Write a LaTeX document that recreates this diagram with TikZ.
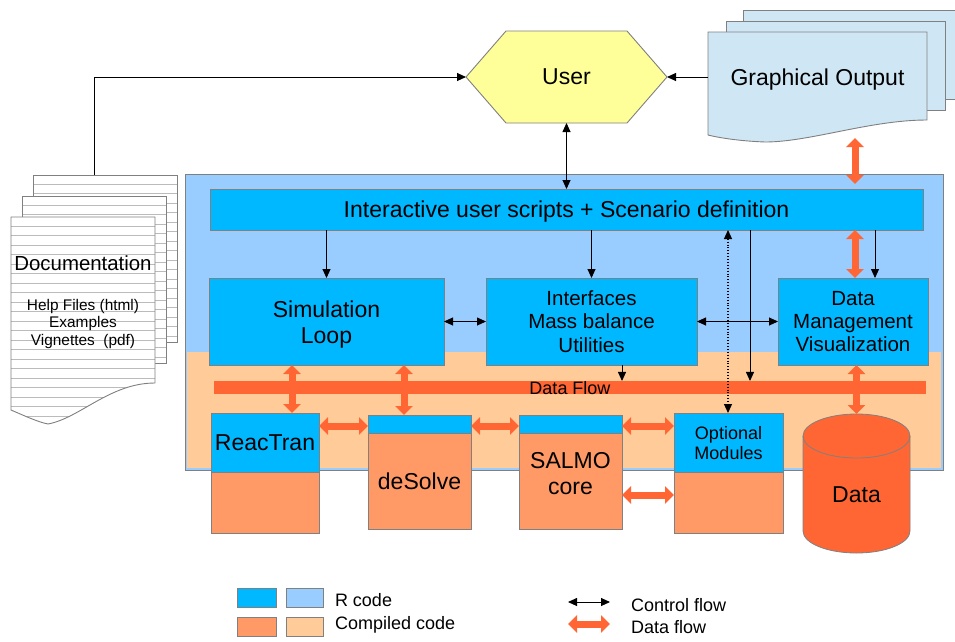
\documentclass[tikz,border=0pt]{standalone}
\usepackage{fontspec}
\setmainfont{Liberation Sans}
\usetikzlibrary{arrows.meta}
\definecolor{cblue}{HTML}{00B8FF}
\definecolor{lblue}{HTML}{99CCFF}
\definecolor{peach}{HTML}{FFCC99}
\definecolor{morange}{HTML}{FF9966}
\definecolor{dorange}{HTML}{FF6633}
\definecolor{uyellow}{HTML}{FFFF99}
\definecolor{gblue}{HTML}{CFE7F5}
\definecolor{bgray}{HTML}{808080}
\definecolor{lgray}{HTML}{BBBBBB}
\begin{document}
\begin{tikzpicture}[x=1pt,y=-1pt,
  every node/.style={inner sep=0pt, outer sep=0pt},
  fA/.style={font=\fontsize{23}{26.5}\selectfont},
  fB/.style={font=\fontsize{20.5}{23.3}\selectfont},
  fC/.style={font=\fontsize{18}{20.5}\selectfont},
  fD/.style={font=\fontsize{15.4}{17.6}\selectfont},
  fE/.style={font=\fontsize{20.4}{23}\selectfont},
  nd/.style={text depth=0pt},
  box/.style={draw=bgray, line width=1pt, fill=cblue},
  modf/.style={draw=bgray, line width=1pt},
  ctrl/.style={draw=black, line width=0.9pt, -{Triangle[width=8pt,length=9pt]}},
  ctrltwo/.style={draw=black, line width=0.9pt, {Triangle[width=8pt,length=9pt]}-{Triangle[width=8pt,length=9pt]}},
  dflow/.style={draw=dorange, line width=7pt, {Triangle[width=17pt,length=9pt]}-{Triangle[width=17pt,length=9pt]}},
  rule/.style={draw=lgray, line width=0.6pt},
  pageborder/.style={draw=bgray, line width=0.9pt}
]
\useasboundingbox (0,0) rectangle (955,641);
\fill[white] (0,0) rectangle (955,641);

% ---------- Documentation stack ----------
\fill[white] (33,175) rectangle (177,342);
\begin{scope}
  \clip (33,175) rectangle (177,342);
  \foreach \y in {184,193.5,...,340} \draw[rule] (33,\y) -- (177,\y);
\end{scope}
\draw[pageborder] (33,175) rectangle (177,342);
\fill[white] (22,196) rectangle (166,363);
\begin{scope}
  \clip (22,196) rectangle (166,363);
  \foreach \y in {205,214.5,...,362} \draw[rule] (22,\y) -- (166,\y);
\end{scope}
\draw[pageborder] (22,196) rectangle (166,363);
\fill[white] (11,217) -- (155,217) -- (155,383) .. controls (110,383) and (80,418) .. (48,424) .. controls (38,422) and (25,416) .. (11,410) -- cycle;
\begin{scope}
  \clip (11,217) -- (155,217) -- (155,383) .. controls (110,383) and (80,418) .. (48,424) .. controls (38,422) and (25,416) .. (11,410) -- cycle;
  \foreach \y in {226,235.5,...,424} \draw[rule] (11,\y) -- (155,\y);
\end{scope}
\draw[pageborder] (11,217) -- (155,217) -- (155,383) .. controls (110,383) and (80,418) .. (48,424) .. controls (38,422) and (25,416) .. (11,410) -- cycle;
\node[fE, nd] (doc) at (83,263) {Documentation};
\node[fD, align=center] (docsub) at (83,324) {Help Files (html)\\Examples\\Vignettes\ \ (pdf)};
\coordinate (doctop) at (94,175);

% ---------- User ----------
\path[fill=uyellow, draw=bgray, line width=0.9pt] (466,77) -- (506,31) -- (627,31) -- (667,77) -- (627,123) -- (506,123) -- cycle;
\node[fA, nd, minimum width=201pt, minimum height=92pt] (user) at (566.5,77) {User};

% ---------- Graphical output ----------
\path[fill=gblue, pageborder] (743,10) rectangle (962,99);
\path[fill=gblue, pageborder] (726,21) rectangle (945,110);
\path[fill=gblue, pageborder] (708,32) -- (927,32) -- (927,120) .. controls (870,120) and (810,142) .. (765,142) .. controls (740,141) and (720,138) .. (708,135) -- cycle;
\node[fA, nd, minimum width=219pt] (gout) at (817.5,77) {Graphical Output};

% ---------- Main box ----------
\node[fill=lblue, minimum width=758pt, minimum height=296pt] (main) at (564,322) {};
\fill[peach] (187,352) rectangle (941,468);
\draw[bgray, line width=1pt] (main.north west) rectangle (main.south east);

\node[box, fA, nd, minimum width=713pt, minimum height=41pt] (scripts) at (566.5,209.5) {Interactive user scripts + Scenario definition};
\node[box, minimum width=235pt, minimum height=87pt] (sim) at (326.5,321.5) {};
\node[fA, align=center] (simtext) at (326.5,324.5) {Simulation\\Loop};
\node[box, fB, align=center, minimum width=211pt, minimum height=87pt] (interf) at (591.5,321.5) {Interfaces\\Mass balance\\Utilities};
\node[box, fB, align=center, minimum width=150pt, minimum height=87pt] (dm) at (853,321.5) {Data\\Management\\Visualization};

\node[fill=dorange, fC, nd, minimum width=712pt, minimum height=13pt] (bar) at (570,387.5) {Data Flow};

% ---------- Modules ----------
\fill[cblue] (211,413) rectangle (319,472);
\fill[morange] (211,472) rectangle (319,533);
\node[modf, minimum width=108pt, minimum height=120pt] (reac) at (265,473) {};
\draw[bgray, line width=1pt] (211,472) -- (319,472);
\node[fA, nd] at (265,443) {ReacTran};

\fill[cblue] (368,415) rectangle (471,433);
\fill[morange] (368,433) rectangle (471,529);
\node[modf, minimum width=103pt, minimum height=114pt] (desolve) at (419.5,472) {};
\draw[bgray, line width=1pt] (368,433) -- (471,433);
\node[fA, nd] at (419.5,481) {deSolve};

\fill[cblue] (519,415) rectangle (622,433);
\fill[morange] (519,433) rectangle (622,529);
\node[modf, minimum width=103pt, minimum height=114pt] (salmo) at (570.5,472) {};
\draw[bgray, line width=1pt] (519,433) -- (622,433);
\node[fA, align=center] at (570.5,473.5) {SALMO\\core};

\fill[cblue] (674,413) rectangle (783,472);
\fill[morange] (674,472) rectangle (783,533);
\node[modf, minimum width=109pt, minimum height=120pt] (optm) at (728.5,473) {};
\draw[bgray, line width=1pt] (674,472) -- (783,472);
\node[fC, align=center] at (728.5,443) {Optional\\Modules};

% ---------- Data cylinder ----------
\node[minimum width=107pt, minimum height=139pt] (data) at (856.5,483.5) {};
\path[fill=dorange, draw=bgray, line width=0.8pt] (803,436) -- (803,531) arc[start angle=180, end angle=360, x radius=53.5pt, y radius=22pt] -- (910,436) arc[start angle=0, end angle=180, x radius=53.5pt, y radius=22pt] -- cycle;
\draw[bgray, line width=0.8pt] (803,436) arc[start angle=180, end angle=360, x radius=53.5pt, y radius=22pt];
\node[fA, nd] at (856.5,495) {Data};

% ---------- helper coordinates ----------
\coordinate (c292) at (292,0);
\coordinate (c404) at (404,0);
\coordinate (c622) at (622,0);
\coordinate (c728) at (728,0);
\coordinate (c750) at (750,0);
\coordinate (c855) at (855,0);
\coordinate (c875) at (875,0);
\coordinate (r426) at (0,426);
\coordinate (r495) at (0,495);
\coordinate (g1) at (855,138);
\coordinate (g2) at (855,184);

% ---------- Data flow arrows ----------
\draw[dflow] (g1) -- (g2);
\draw[dflow] (scripts.south -| c855) -- (dm.north -| c855);
\draw[dflow] (sim.south -| c292) -- (reac.north -| c292);
\draw[dflow] (sim.south -| c404) -- (desolve.north -| c404);
\draw[dflow] (dm.south -| data.north) -- (data.north);
\draw[dflow] (reac.east |- r426) -- (desolve.west |- r426);
\draw[dflow] (desolve.east |- r426) -- (salmo.west |- r426);
\draw[dflow] (salmo.east |- r426) -- (optm.west |- r426);
\draw[dflow] (salmo.east |- r495) -- (optm.west |- r495);

% ---------- Control flow arrows ----------
\draw[ctrl] (doctop) |- (user.west);
\draw[ctrl] (gout.west) -- (user.east);
\draw[ctrltwo] (user.south) -- (scripts.north);
\draw[ctrl] (scripts.south -| sim) -- (sim.north);
\draw[ctrl] (scripts.south -| interf) -- (interf.north);
\draw[ctrl] (scripts.south -| c875) -- (dm.north -| c875);
\draw[ctrltwo] (sim) -- (interf);
\draw[ctrltwo] (interf) -- (dm);
\draw[ctrl] (scripts.south -| c750) -- (bar.north -| c750);
\draw[ctrl] (interf.south -| c622) -- (bar.north -| c622);
\draw[ctrltwo, dotted, line width=1.2pt] (scripts.south -| c728) -- (optm.north -| c728);

% ---------- Legend ----------
\node[fill=cblue, draw=bgray, line width=0.8pt, minimum width=39pt, minimum height=19pt] (lg1) at (256.5,597.5) {};
\node[fill=lblue, draw=bgray, line width=0.8pt, minimum width=37pt, minimum height=19pt] (lg2) at (304.5,597.5) {};
\node[fill=morange, draw=bgray, line width=0.8pt, minimum width=39pt, minimum height=19pt] (lg3) at (256.5,626.5) {};
\node[fill=peach, draw=bgray, line width=0.8pt, minimum width=37pt, minimum height=19pt] (lg4) at (304.5,626.5) {};
\node[fC, nd, anchor=west] (lr) at (335,600) {R code};
\node[fC, nd, anchor=west] (lc) at (335,623) {Compiled code};
\coordinate (la1) at (568,602);
\coordinate (la2) at (610,602);
\coordinate (lb1) at (568,624);
\coordinate (lb2) at (610,624);
\draw[ctrltwo] (la1) -- (la2);
\draw[dflow] (lb1) -- (lb2);
\node[fC, nd, anchor=west] (lcf) at (631,605) {Control flow};
\node[fC, nd, anchor=west] (ldf) at (631,627) {Data flow};
\end{tikzpicture}
\end{document}
